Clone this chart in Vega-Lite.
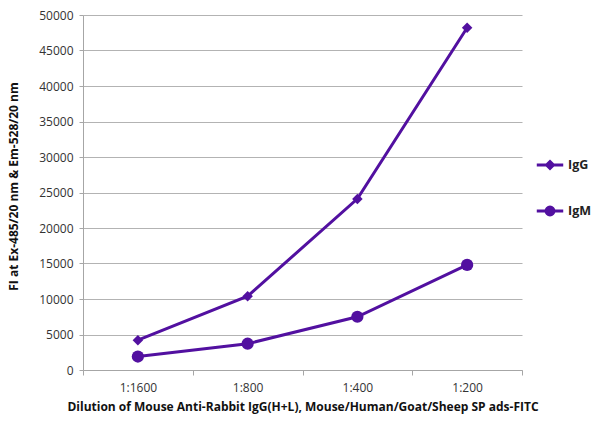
{
  "$schema": "https://vega.github.io/schema/vega-lite/v6.json",
  "width": 439,
  "height": 355,
  "autosize": {"type": "none"},
  "padding": {"left": 83, "top": 15, "right": 78, "bottom": 62},
  "background": "white",
  "config": {
    "view": {"stroke": null},
    "font": "Open Sans",
    "axis": {
      "labelFont": "Open Sans",
      "labelFontSize": 12,
      "labelColor": "#333333",
      "titleFont": "Open Sans",
      "titleFontSize": 12,
      "titleFontWeight": "bold",
      "titleColor": "#111111",
      "domainColor": "#a6a6a6",
      "tickColor": "#a6a6a6",
      "gridColor": "#b3b3b3"
    }
  },
  "data": {
    "values": [
      {"dilution": "1:1600", "series": "IgG", "value": 4200},
      {"dilution": "1:800", "series": "IgG", "value": 10400},
      {"dilution": "1:400", "series": "IgG", "value": 24100},
      {"dilution": "1:200", "series": "IgG", "value": 48200},
      {"dilution": "1:1600", "series": "IgM", "value": 1900},
      {"dilution": "1:800", "series": "IgM", "value": 3700},
      {"dilution": "1:400", "series": "IgM", "value": 7500},
      {"dilution": "1:200", "series": "IgM", "value": 14800}
    ]
  },
  "encoding": {
    "x": {
      "field": "dilution",
      "type": "nominal",
      "sort": ["1:1600", "1:800", "1:400", "1:200"],
      "scale": {"paddingInner": 0, "paddingOuter": 0},
      "axis": {
        "title": "Dilution of Mouse Anti-Rabbit IgG(H+L), Mouse/Human/Goat/Sheep SP ads-FITC",
        "labelAngle": 0,
        "tickBand": "extent",
        "tickSize": 5,
        "labelPadding": 7,
        "titlePadding": 8,
        "grid": false
      }
    },
    "y": {
      "field": "value",
      "type": "quantitative",
      "scale": {"domain": [0, 50000]},
      "axis": {
        "title": "FI at Ex-485/20 nm & Em-528/20 nm",
        "values": [0, 5000, 10000, 15000, 20000, 25000, 30000, 35000, 40000, 45000, 50000],
        "format": "d",
        "tickSize": 4,
        "labelPadding": 6,
        "titleX": -63,
        "titleY": 171,
        "grid": true
      }
    }
  },
  "layer": [
    {
      "mark": {"type": "line", "strokeWidth": 3, "color": "#5210a0"},
      "encoding": {"detail": {"field": "series"}}
    },
    {
      "mark": {"type": "point", "filled": true, "opacity": 1, "color": "#5210a0"},
      "encoding": {
        "shape": {
          "field": "series",
          "scale": {"domain": ["IgG", "IgM"], "range": ["diamond", "circle"]},
          "legend": null
        },
        "size": {
          "field": "series",
          "scale": {"domain": ["IgG", "IgM"], "range": [110, 150]},
          "legend": null
        }
      }
    },
    {
      "mark": {"type": "point", "filled": false, "opacity": 0, "color": "#5210a0"},
      "encoding": {
        "shape": {
          "field": "series",
          "scale": {
            "domain": ["IgG", "IgM"],
            "range": [
              "M-1,0L1,0M0,-0.26L0.26,0L0,0.26L-0.26,0Z",
              "M-1,0L1,0M-0.3,0A0.3,0.3,0,1,0,0.3,0A0.3,0.3,0,1,0,-0.3,0ZM-0.12,0A0.12,0.12,0,1,0,0.12,0A0.12,0.12,0,1,0,-0.12,0Z"
            ]
          },
          "legend": {
            "title": null,
            "orient": "none",
            "legendX": 452,
            "legendY": 135,
            "symbolSize": 700,
            "symbolStrokeWidth": 3,
            "symbolStrokeColor": "#5210a0",
            "symbolFillColor": "#5210a0",
            "symbolOpacity": 1,
            "rowPadding": 21,
            "labelOffset": 3,
            "labelFont": "Open Sans",
            "labelFontSize": 12.5,
            "labelFontWeight": "bold",
            "labelColor": "#222222"
          }
        }
      }
    }
  ],
  "resolve": {"scale": {"shape": "independent"}}
}
